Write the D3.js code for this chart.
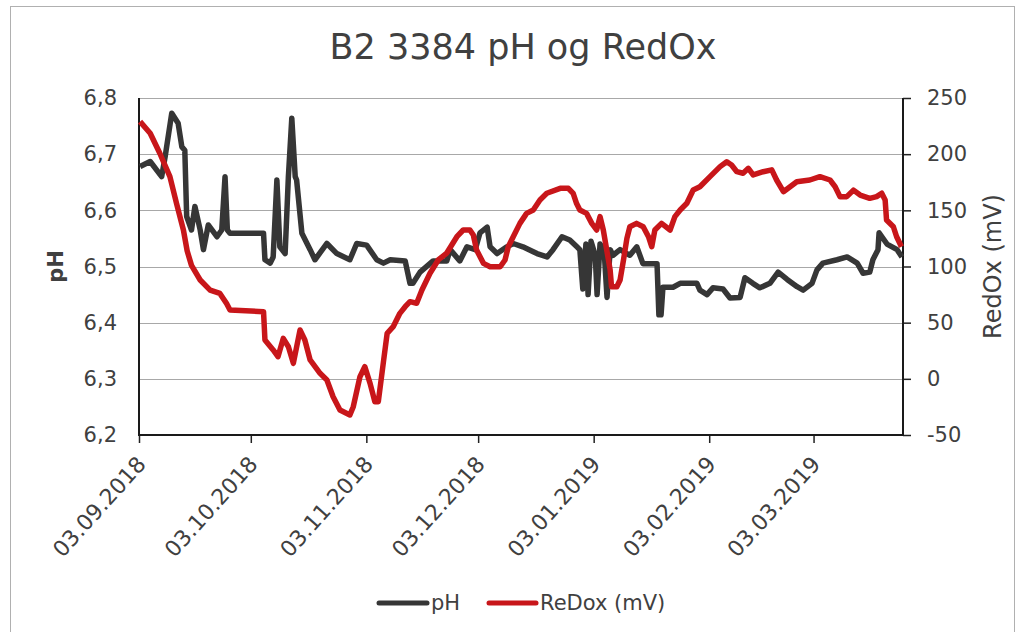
<!DOCTYPE html>
<html>
<head>
<meta charset="utf-8">
<script src="https://cdn.jsdelivr.net/npm/d3@7"></script>
<style>
  body { margin: 0; background: #fff; }
  svg { display: block; }
</style>
</head>
<body>
<div id="chart"></div>
<script>
/* B2 3384 pH og RedOx — dual axis line chart */

var START = '03.09.2018', END = '27.03.2019';
var xTickLabels = ['03.09.2018', '03.10.2018', '03.11.2018', '03.12.2018',
                   '03.01.2019', '03.02.2019', '03.03.2019'];
var phTicks = [6.2, 6.3, 6.4, 6.5, 6.6, 6.7, 6.8];
var redoxTicks = [-50, 0, 50, 100, 150, 200, 250];

// days after 03.09.2018
var phDay = [0.3, 3, 6.1, 7, 8.8, 10.5, 11.5, 12.3, 12.8, 14.1, 15, 16.4, 17.3, 18.6, 20.9, 22.2,
  23.1, 23.7, 24.4, 33.4, 33.8, 35.2, 36, 37, 37.8, 39.2, 40.1, 41, 41.9, 42.3, 43.7, 45.9,
  47.2, 50.4, 53.1, 56.6, 58.4, 61.1, 63.8, 65.6, 67.4, 71.4, 72.7, 73.5, 75.4, 78.9, 80,
  82.6, 83.5, 86.1, 88, 90.2, 91.5, 93.4, 94.2, 96.1, 98.7, 100.4, 103, 106.8, 109.5, 111.1,
  113.5, 115.6, 117.5, 118.3, 119.1, 119.9, 120.5, 121.3, 122.4, 122.9, 123.7, 124.8, 125.6,
  126.4, 127.2, 129.1, 131.7, 133.6, 135.2, 139, 139.5, 140.1, 140.6, 143.3, 145.2, 149.7,
  150.5, 152.4, 154, 156.7, 158.6, 161.3, 162.6, 164.7, 166.6, 169.3, 171.5, 173.9, 176.6,
  178.2, 180.6, 181.9, 183.5, 187.3, 190, 192.7, 194.3, 196.1, 196.9, 198.3, 198.6, 200.7,
  203.4, 204.7];
var phVal = [6.678, 6.687, 6.66, 6.695, 6.773, 6.755, 6.713, 6.707, 6.589, 6.565, 6.607, 6.565,
  6.53, 6.574, 6.553, 6.565, 6.66, 6.565, 6.559, 6.559, 6.512, 6.506, 6.517, 6.654, 6.535,
  6.523, 6.66, 6.764, 6.66, 6.654, 6.559, 6.53, 6.512, 6.541, 6.523, 6.512, 6.541, 6.538,
  6.512, 6.506, 6.512, 6.51, 6.47, 6.47, 6.49, 6.51, 6.51, 6.51, 6.53, 6.51, 6.535, 6.53,
  6.56, 6.57, 6.535, 6.523, 6.535, 6.541, 6.535, 6.523, 6.517, 6.53, 6.553, 6.547, 6.535,
  6.53, 6.46, 6.54, 6.45, 6.545, 6.52, 6.45, 6.54, 6.53, 6.445, 6.53, 6.52, 6.53, 6.52,
  6.535, 6.505, 6.505, 6.414, 6.414, 6.463, 6.463, 6.47, 6.47, 6.458, 6.45, 6.462, 6.46,
  6.444, 6.445, 6.48, 6.47, 6.462, 6.47, 6.49, 6.477, 6.464, 6.458, 6.47, 6.494, 6.506,
  6.512, 6.517, 6.506, 6.488, 6.49, 6.512, 6.53, 6.56, 6.54, 6.53, 6.517];

var redoxDay = [0.3, 3, 5.6, 8.3, 10.1, 11.9, 12.9, 14.1, 16.4, 19.1, 21.7, 23.5, 24.4, 33.4,
  33.8, 36, 37.3, 38.7, 40.1, 41.4, 43.2, 44.5, 45.9, 48.6, 50.4, 52.1, 53.9, 56.6, 57.5,
  59.3, 60.6, 62, 63.3, 64.2, 65.6, 66.6, 68.2, 70, 71.4, 72.7, 74.5, 75.9, 78.1, 80.3, 82.6,
  85.3, 87, 88.8, 89.7, 90.6, 92.4, 94.2, 96.9, 98.2, 99.1, 100.4, 102.2, 104, 105.8, 107.6,
  109.4, 113, 115.2, 116.5, 117.4, 118.3, 120.1, 121.5, 122.8, 123.7, 124.6, 125.5, 126.4,
  126.8, 128.2, 129.1, 130, 130.9, 131.7, 133.5, 135.3, 136.7, 137.6, 138.4, 140.2, 142.5,
  143.8, 145.2, 147, 148.7, 150.5, 153.2, 155.9, 157.7, 159, 160.4, 162.1, 163.5, 164.8,
  167.5, 169.8, 171.1, 172.9, 174.7, 176.5, 180, 182.7, 185.4, 186.8, 188.1, 189.9, 191.7,
  193.5, 196.1, 197.9, 199.3, 200.2, 200.6, 202.4, 203.3, 204.6];
var redoxVal = [229, 218.6, 200.8, 180, 156, 132.5, 114, 101, 88, 79, 76, 67, 61.3, 59.8,
  34.6, 25.7, 19.7, 36, 28.6, 13.8, 43.5, 34.6, 16.8, 4.9, -1, -16, -27.8, -32.2, -24.8,
  1.9, 10.8, -4, -20.4, -20.4, 15, 40.5, 46.4, 58.3, 64.2, 68.7, 67.3, 79.1, 94, 105.8, 112,
  126.5, 132.5, 132.5, 128, 114.7, 102.8, 99.8, 99.8, 105.8, 117.6, 126.5, 138.4, 147.3,
  150.3, 159.2, 165.2, 169.6, 169.6, 165, 156, 150.3, 147.3, 138.4, 132.5, 144.4, 132.5,
  114.7, 97, 82, 82, 88, 105.8, 125, 135.4, 138.4, 135.4, 126.5, 117.6, 132.5, 138.4, 132.5,
  144.4, 150.3, 156.3, 168.1, 171, 180, 188.9, 193.3, 190.4, 184.4, 183, 187.4, 181.5, 184.4,
  186, 177, 166.6, 171, 175.5, 177, 180, 177, 171, 162.2, 162.2, 168, 163.6, 160.7, 162.2,
  165.2, 159.2, 141.4, 135.4, 126.5, 117.6];

var W = 1022, H = 632;
var FONT = '"DejaVu Sans", Verdana, sans-serif';
var TXT = '#404040';
var PH_COL = '#363636', RED_COL = '#c8161a';

var parse = d3.utcParse('%d.%m.%Y');
var t0 = parse(START);
var comma = d3.formatLocale({ decimal: ',', thousands: ' ', grouping: [3], currency: ['', ''] }).format('.1f');

var svg = d3.select('#chart').append('svg')
  .attr('width', W).attr('height', H);

/* chart frame */
svg.append('rect')
  .attr('x', 10.5).attr('y', 6.5).attr('width', 1004).attr('height', 640)
  .attr('fill', '#fff').attr('stroke', '#b0b0b0').attr('stroke-width', 1);

var L = 139, R = 903, T = 98, B = 435;

var x = d3.scaleUtc().domain([t0, parse(END)]).range([L, R]);
var yPh = d3.scaleLinear().domain([6.2, 6.8]).range([B, T]);
var yRx = d3.scaleLinear().domain([-50, 250]).range([B, T]);

/* gridlines */
svg.append('g').selectAll('line').data(phTicks.slice(1)).join('line')
  .attr('x1', L).attr('x2', R)
  .attr('y1', function (d) { return Math.round(yPh(d)) + 0.5; })
  .attr('y2', function (d) { return Math.round(yPh(d)) + 0.5; })
  .attr('stroke', '#a8a8a8').attr('stroke-width', 1);

/* title */
svg.append('text')
  .attr('x', 523).attr('y', 59).attr('text-anchor', 'middle')
  .attr('font-family', FONT).attr('font-size', 35).attr('fill', TXT)
  .text('B2 3384 pH og RedOx');

/* left axis */
svg.append('g').attr('transform', 'translate(' + L + ',0)')
  .call(d3.axisLeft(yPh).tickValues(phTicks).tickSize(0).tickPadding(22).tickFormat(comma))
  .call(function (g) {
    g.select('.domain').remove();
    g.selectAll('text').attr('font-family', FONT).attr('font-size', 21).attr('fill', TXT);
  });

/* right axis */
svg.append('g').attr('transform', 'translate(' + R + ',0)')
  .call(d3.axisRight(yRx).tickValues(redoxTicks).tickSize(8).tickPadding(16)
    .tickFormat(function (d) { return String(d); }))
  .call(function (g) {
    g.select('.domain').remove();
    g.selectAll('line').attr('stroke', '#222').attr('stroke-width', 1.5);
    g.selectAll('text').attr('font-family', FONT).attr('font-size', 21).attr('fill', TXT)
      .attr('text-anchor', 'start');
  });

/* bottom axis */
var xTicks = xTickLabels.map(parse);
svg.append('g').attr('transform', 'translate(0,' + B + ')')
  .call(d3.axisBottom(x).tickValues(xTicks).tickSize(8).tickFormat(''))
  .call(function (g) {
    g.select('.domain').remove();
    g.selectAll('line').attr('stroke', '#222').attr('stroke-width', 1.5);
  });

svg.append('g').selectAll('text').data(xTickLabels).join('text')
  .attr('transform', function (d) {
    return 'translate(' + (x(parse(d)) + 8) + ',' + (B + 30) + ') rotate(-48)';
  })
  .attr('text-anchor', 'end')
  .attr('font-family', FONT).attr('font-size', 22).attr('fill', TXT)
  .text(function (d) { return d; });

/* axis lines */
svg.append('line').attr('x1', L).attr('x2', L).attr('y1', T).attr('y2', B + 1)
  .attr('stroke', '#1a1a1a').attr('stroke-width', 2);
svg.append('line').attr('x1', R).attr('x2', R).attr('y1', T).attr('y2', B + 1)
  .attr('stroke', '#1a1a1a').attr('stroke-width', 2);
svg.append('line').attr('x1', L - 1).attr('x2', R + 1).attr('y1', B).attr('y2', B)
  .attr('stroke', '#1a1a1a').attr('stroke-width', 2);

/* axis titles */
svg.append('text')
  .attr('transform', 'translate(63,' + yPh(6.5) + ') rotate(-90)')
  .attr('text-anchor', 'middle')
  .attr('font-family', FONT).attr('font-size', 21).attr('font-weight', 'bold').attr('fill', TXT)
  .text('pH');

svg.append('text')
  .attr('transform', 'translate(1001,' + yPh(6.5) + ') rotate(-90)')
  .attr('text-anchor', 'middle')
  .attr('font-family', FONT).attr('font-size', 24).attr('fill', TXT)
  .text('RedOx (mV)');

/* series */
var phLine = d3.line()
  .x(function (d, i) { return x(d3.utcHour.offset(t0, Math.round(phDay[i] * 24))); })
  .y(function (d) { return yPh(d); });
var rxLine = d3.line()
  .x(function (d, i) { return x(d3.utcHour.offset(t0, Math.round(redoxDay[i] * 24))); })
  .y(function (d) { return yRx(d); });

svg.append('path').datum(phVal).attr('d', phLine)
  .attr('fill', 'none').attr('stroke', PH_COL).attr('stroke-width', 5.5)
  .attr('stroke-linejoin', 'round');
svg.append('path').datum(redoxVal).attr('d', rxLine)
  .attr('fill', 'none').attr('stroke', RED_COL).attr('stroke-width', 5.5)
  .attr('stroke-linejoin', 'round');

/* legend */
var legend = [
  { label: 'pH', color: PH_COL, x0: 379, x1: 427 },
  { label: 'ReDox (mV)', color: RED_COL, x0: 489, x1: 536 }
];
legend.forEach(function (d) {
  svg.append('line').attr('x1', d.x0).attr('x2', d.x1).attr('y1', 603).attr('y2', 603)
    .attr('stroke', d.color).attr('stroke-width', 5).attr('stroke-linecap', 'round');
  svg.append('text').attr('x', d.x1 + 4).attr('y', 610)
    .attr('font-family', FONT).attr('font-size', 21).attr('fill', TXT)
    .text(d.label);
});
</script>
</body>
</html>
